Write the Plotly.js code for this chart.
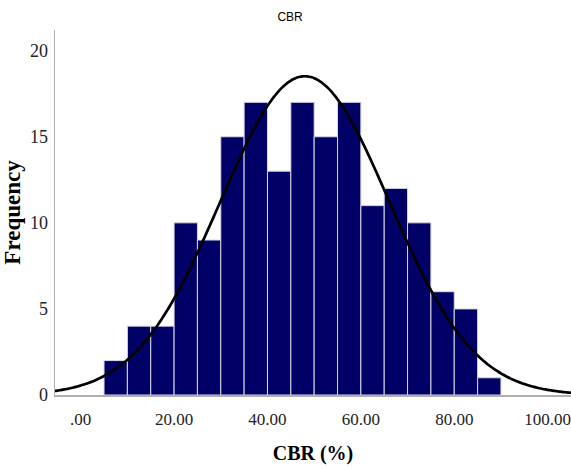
<!DOCTYPE html>
<html>
<head>
<meta charset="utf-8">
<script src="https://cdn.plot.ly/plotly-3.0.1.min.js"></script>
<style>html,body{margin:0;padding:0;background:#fff;}#chart{width:571px;height:468px;}</style>
</head>
<body>
<div id="chart"></div>
<script>
// Histogram bins (lower edge, width 5) and frequencies
const binStarts = [5, 10, 15, 20, 25, 30, 35, 40, 45, 50, 55, 60, 65, 70, 75, 80, 85];
const frequencies = [2, 4, 4, 10, 9, 15, 17, 13, 17, 15, 17, 11, 12, 10, 6, 5, 1];
const binWidth = 5;
// Fitted normal curve parameters
const fitMean = 48.0;
const fitSD = 18.1;
const xTickVals = [0, 20, 40, 60, 80, 100];
const xTickText = ['.00', '20.00', '40.00', '60.00', '80.00', '100.00'];
const yTickVals = [0, 5, 10, 15, 20];

const N = frequencies.reduce((a, b) => a + b, 0);
const centers = binStarts.map(s => s + binWidth / 2);

const curveX = [], curveY = [];
for (let x = -6; x <= 106; x += 0.5) {
  const z = (x - fitMean) / fitSD;
  curveX.push(x);
  curveY.push(N * binWidth / (fitSD * Math.sqrt(2 * Math.PI)) * Math.exp(-0.5 * z * z));
}

const data = [
  {
    type: 'bar', x: centers, y: frequencies, width: binWidth,
    marker: {color: '#000066', line: {color: '#d8d8e8', width: 1}},
    hoverinfo: 'x+y'
  },
  {
    type: 'scatter', mode: 'lines', x: curveX, y: curveY,
    line: {color: '#000000', width: 2.7, shape: 'spline'}, hoverinfo: 'skip'
  }
];

const layout = {
  width: 571, height: 468,
  margin: {l: 55, r: 0, t: 30, b: 73},
  paper_bgcolor: '#ffffff', plot_bgcolor: '#ffffff',
  showlegend: false,
  bargap: 0,
  title: {text: 'CBR', font: {family: 'Liberation Sans, Arial', size: 12, color: '#000'}, x: 0.508, xanchor: 'center', y: 0.965, yanchor: 'middle'},
  xaxis: {
    range: [-5.5, 105], showgrid: false, zeroline: false,
    showline: true, linecolor: '#b0b0b0', linewidth: 1.5,
    tickvals: xTickVals, ticktext: xTickText, ticks: '',
    ticklabelstandoff: 8, ticklabeloverflow: 'allow',
    tickfont: {family: 'Liberation Serif, Times New Roman', size: 17, color: '#222'},
    title: {text: '<b>CBR (%)</b>', font: {family: 'Liberation Serif, Times New Roman', size: 20, color: '#000'}, standoff: 18}
  },
  yaxis: {
    range: [0, 21.2], showgrid: false, zeroline: false,
    showline: true, linecolor: '#b0b0b0', linewidth: 1.5,
    tickvals: yTickVals, ticks: '',
    ticklabelstandoff: 2,
    tickfont: {family: 'Liberation Serif, Times New Roman', size: 18, color: '#222'},
    title: {text: '<b>Frequency</b>', font: {family: 'Liberation Serif, Times New Roman', size: 23, color: '#000'}, standoff: 12}
  }
};

Plotly.newPlot('chart', data, layout, {displayModeBar: false, staticPlot: true});
</script>
</body>
</html>
